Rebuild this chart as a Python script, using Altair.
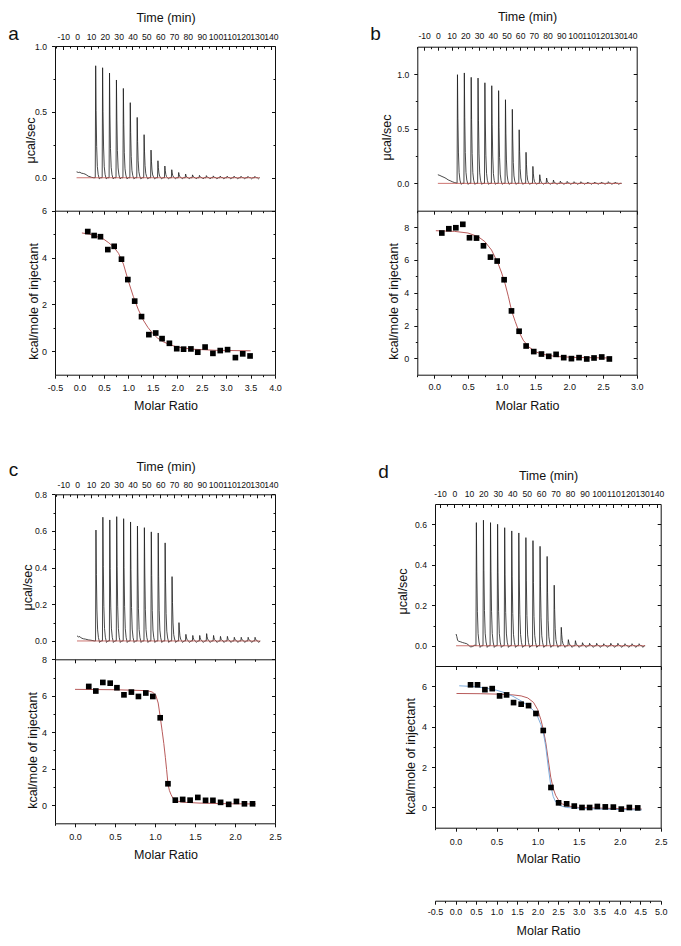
import altair as alt
import pandas as pd

# ---------------- values ----------------
TIME_LABELS = [-10, 0, 10, 20, 30, 40, 50, 60, 70, 80, 90, 100, 110, 120, 130, 140]
TIME_MINOR = [-15, -5, 5, 15, 25, 35, 45, 55, 65, 75, 85, 95, 105, 115, 125, 135]

# spike template of one injection (time offset, fraction of peak, extra dip)
SPIKE_DT = [-0.3, 0.0, 0.3, 0.7, 1.2, 1.8, 2.6, 3.6]
SPIKE_FRAC = [0.0, 1.0, 0.6, 0.28, 0.1, 0.03, 0.0, 0.0]
SPIKE_DIP = [0.0, 0.0, 0.0, 0.0, 0.0, 0.0, -0.008, 0.0]

# ---- panel a ----
A_PRE_T = [-0.4, 1.0, 2.0, 3.0, 4.5, 5.7, 7.0, 8.0, 9.3, 10.5, 12.0]
A_PRE_V = [0.045, 0.040, 0.042, 0.035, 0.032, 0.028, 0.020, 0.012, 0.008, 0.003, 0.0]
A_INJ_START, A_INJ_STEP, A_END = 13.4, 5.0, 131.8
A_PEAKS = [0.85, 0.835, 0.795, 0.742, 0.678, 0.57, 0.458, 0.327, 0.21, 0.129, 0.089, 0.061,
           0.04, 0.028, 0.022, 0.018, 0.016, 0.014, 0.013, 0.012, 0.012, 0.011, 0.01, 0.01]
A_BASE_T = [-0.4, 131.8]
A_MR = [0.17, 0.30, 0.43, 0.58, 0.71, 0.86, 0.99, 1.13, 1.27, 1.42, 1.56, 1.69, 1.84, 1.99,
        2.13, 2.28, 2.42, 2.57, 2.73, 2.88, 3.03, 3.19, 3.34, 3.49]
A_KCAL = [5.11, 4.94, 4.89, 4.34, 4.48, 3.93, 3.06, 2.14, 1.48, 0.71, 0.78, 0.54, 0.34, 0.11,
          0.09, 0.10, -0.04, 0.18, -0.09, 0.03, 0.07, -0.27, -0.11, -0.20]
A_FIT_MR = [0.05, 0.2, 0.35, 0.5, 0.6, 0.7, 0.8, 0.9, 1.0, 1.1, 1.2, 1.3, 1.4, 1.5, 1.6, 1.7,
            1.85, 2.0, 2.3, 2.8, 3.5]
A_FIT_KCAL = [5.05, 5.0, 4.9, 4.78, 4.63, 4.45, 4.18, 3.72, 3.0, 2.35, 1.8, 1.35, 1.02, 0.76,
              0.56, 0.42, 0.28, 0.18, 0.09, 0.04, 0.02]

# ---- panel b ----
B_PRE_T = [0.0, 1.5, 3.0, 4.5, 6.0, 7.5, 9.0, 10.5, 12.0, 13.5]
B_PRE_V = [0.079, 0.072, 0.063, 0.055, 0.045, 0.032, 0.024, 0.015, 0.008, 0.003]
B_INJ_START, B_INJ_STEP, B_END = 14.3, 5.0, 134.0
B_PEAKS = [0.994, 1.01, 0.97, 0.963, 0.92, 0.893, 0.848, 0.765, 0.677, 0.49, 0.284, 0.155,
           0.079, 0.049, 0.03, 0.02, 0.018, 0.015, 0.015, 0.012, 0.012, 0.012, 0.015, 0.012]
B_BASE_T = [0.0, 134.0]
B_MR = [0.113, 0.217, 0.321, 0.424, 0.523, 0.627, 0.73, 0.834, 0.933, 1.036, 1.145, 1.258,
        1.362, 1.475, 1.589, 1.697, 1.806, 1.919, 2.033, 2.146, 2.26, 2.368, 2.482, 2.595]
B_KCAL = [7.64, 7.90, 7.96, 8.17, 7.35, 7.33, 6.86, 6.17, 5.93, 4.79, 2.89, 1.65, 0.75, 0.41,
          0.26, 0.12, 0.24, 0.04, -0.02, 0.04, -0.04, 0.02, 0.08, -0.04]
B_FIT_MR = [0.025, 0.3, 0.5, 0.65, 0.75, 0.85, 0.95, 1.0, 1.05, 1.1, 1.15, 1.2, 1.26, 1.32,
            1.4, 1.5, 1.6, 1.8, 2.1, 2.6]
B_FIT_KCAL = [7.78, 7.74, 7.64, 7.42, 7.12, 6.6, 5.75, 5.2, 4.55, 3.75, 2.85, 2.25, 1.58, 1.1,
              0.7, 0.4, 0.25, 0.11, 0.05, 0.02]

# ---- panel c ----
C_PRE_T = [-0.1, 1.0, 2.0, 3.0, 4.5, 6.0, 8.0, 10.0, 12.5]
C_PRE_V = [0.028, 0.022, 0.024, 0.016, 0.012, 0.010, 0.006, 0.004, 0.0]
C_INJ_START, C_INJ_STEP, C_END = 13.6, 5.0, 132.3
C_PEAKS = [0.605, 0.675, 0.66, 0.678, 0.667, 0.649, 0.627, 0.618, 0.595, 0.589, 0.535, 0.351,
           0.10, 0.036, 0.03, 0.03, 0.04, 0.03, 0.025, 0.025, 0.02, 0.02, 0.02, 0.02]
C_BASE_T = [-0.1, 132.3]
C_MR = [0.172, 0.26, 0.348, 0.44, 0.524, 0.612, 0.705, 0.793, 0.885, 0.973, 1.065, 1.162,
        1.254, 1.346, 1.439, 1.535, 1.632, 1.724, 1.82, 1.921, 2.018, 2.118, 2.219]
C_KCAL = [6.51, 6.26, 6.73, 6.69, 6.44, 6.05, 6.2, 5.96, 6.15, 5.96, 4.79, 1.17, 0.27, 0.31,
          0.27, 0.42, 0.26, 0.26, 0.15, 0.04, 0.2, 0.07, 0.07]
C_FIT_MR = [0.0, 0.5, 0.9, 0.97, 1.01, 1.04, 1.065, 1.09, 1.11, 1.13, 1.145, 1.162, 1.18, 1.2,
            1.225, 1.26, 1.34, 1.55, 1.97, 2.26]
C_FIT_KCAL = [6.35, 6.33, 6.28, 6.2, 6.02, 5.6, 4.85, 4.05, 3.38, 2.6, 1.95, 1.17, 0.8, 0.58,
              0.37, 0.24, 0.16, 0.11, 0.07, 0.06]

# ---- panel d ----
D_PRE_T = [1.1, 1.6, 2.2, 3.0, 4.0, 5.5, 7.0, 8.5, 10.0, 11.0, 12.5, 14.3]
D_PRE_V = [0.058, 0.045, 0.026, 0.022, 0.020, 0.016, 0.013, 0.010, 0.002, -0.006, -0.004, 0.004]
D_INJ_START, D_INJ_STEP, D_END = 15.15, 4.9, 132.0
D_PEAKS = [0.608, 0.62, 0.608, 0.6, 0.583, 0.567, 0.557, 0.534, 0.519, 0.491, 0.441, 0.299,
           0.091, 0.03, 0.025, 0.015, 0.012, 0.012, 0.01, 0.012, 0.012, 0.01, 0.01, 0.01]
D_BASE_T = [1.1, 132.0]
D_MR = [0.183, 0.268, 0.358, 0.447, 0.537, 0.622, 0.707, 0.8, 0.89, 0.98, 1.069, 1.163, 1.256,
        1.354, 1.447, 1.541, 1.634, 1.728, 1.825, 1.923, 2.02, 2.118, 2.22]
D_KCAL = [6.07, 6.07, 5.83, 5.88, 5.52, 5.57, 5.19, 5.11, 5.04, 4.65, 3.81, 0.99, 0.23, 0.18,
          0.07, 0.0, 0.0, 0.05, 0.03, 0.02, -0.08, 0.0, -0.02]
D_FIT_MR = [0.012, 0.3, 0.5, 0.7, 0.8, 0.88, 0.95, 1.0, 1.04, 1.07, 1.1, 1.13, 1.16, 1.19, 1.22,
            1.26, 1.3, 1.36, 1.5, 2.0, 2.27]
D_FIT_KCAL = [5.64, 5.63, 5.61, 5.57, 5.52, 5.42, 5.2, 4.85, 4.35, 3.85, 3.2, 2.35, 1.5, 0.95,
              0.6, 0.33, 0.18, 0.08, 0.0, -0.06, -0.08]
D_FIT2_MR = [0.045, 0.2, 0.35, 0.5, 0.6, 0.7, 0.8, 0.88, 0.95, 1.0, 1.04, 1.07, 1.1, 1.13, 1.16,
             1.19, 1.22, 1.27, 1.35, 1.6, 2.0, 2.27]
D_FIT2_KCAL = [6.02, 5.99, 5.92, 5.8, 5.68, 5.5, 5.27, 5.05, 4.8, 4.5, 4.1, 3.7, 3.0, 2.0, 1.1,
               0.55, 0.27, 0.1, 0.0, -0.06, -0.1, -0.12]

# axis tick values
MR_A_LAB = [-0.5, 0.0, 0.5, 1.0, 1.5, 2.0, 2.5, 3.0, 3.5, 4.0]
MR_A_MIN = [-0.25, 0.25, 0.75, 1.25, 1.75, 2.25, 2.75, 3.25, 3.75]
MR_B_LAB = [0.0, 0.5, 1.0, 1.5, 2.0, 2.5, 3.0]
MR_B_MIN = [-0.25, 0.25, 0.75, 1.25, 1.75, 2.25, 2.75]
MR_C_LAB = [0.0, 0.5, 1.0, 1.5, 2.0, 2.5]
MR_C_MIN = [-0.25, 0.25, 0.75, 1.25, 1.75, 2.25]
MR_X_LAB = [-0.5, 0.0, 0.5, 1.0, 1.5, 2.0, 2.5, 3.0, 3.5, 4.0, 4.5, 5.0]
MR_X_MIN = [-0.25, 0.25, 0.75, 1.25, 1.75, 2.25, 2.75, 3.25, 3.75, 4.25, 4.75]

# ---------------- layout and style ----------------
PAD = 8
W, H = 665, 930
FONT = "Liberation Sans"
TRACE_COLOR = "#1a1a1a"
BASE_RED = "#c0504d"
FIT_RED = "#b04848"
FIT_BLUE = "#6fa3d8"
MAJ, MIN = 3.5, 2.0
HYPHEN = "replace(datum.label, '\u2212', '-')"


def build_trace(pre_t, pre_v, t0, step, peaks, end_t):
    ts, vs = list(pre_t), list(pre_v)
    for k, h in enumerate(peaks):
        tk = t0 + k * step
        for dt, f, d in zip(SPIKE_DT, SPIKE_FRAC, SPIKE_DIP):
            ts.append(tk + dt)
            vs.append(h * f + d)
    ts.append(end_t)
    vs.append(0.0)
    return pd.DataFrame({"t": ts, "v": vs})


def axis_at(orient, page_pos, **kw):
    p = page_pos - PAD
    off = -p if orient in ("left", "top") else p - H
    spec = dict(orient=orient, offset=off, grid=False, labelFlush=False, labelOverlap=False)
    spec.update(kw)
    return alt.Axis(**spec)


def tick_axis(orient, page_pos, values, size, domain=False):
    return axis_at(orient, page_pos, values=values, labels=False, ticks=True,
                   tickSize=size, domain=domain, title=None)


def inside(vals, dom):
    return [v for v in vals if dom[0] <= v <= dom[1]]


PANELS = [
    dict(letter="a", geom=(55, 275, 46, 210.7, 374.7), tdom=[-16, 143], udom=[-0.25, 1.0],
         kdom=[-1, 6], mdom=[-0.5, 4.0],
         u_major=[0.0, 0.5, 1.0], u_minor=[0.25, 0.75], k_major=[0, 2, 4, 6], k_minor=[1, 3, 5],
         m_lab=MR_A_LAB, m_min=MR_A_MIN,
         trace=build_trace(A_PRE_T, A_PRE_V, A_INJ_START, A_INJ_STEP, A_PEAKS, A_END),
         base=pd.DataFrame({"t": A_BASE_T, "v": [0.0, 0.0]}),
         pts=pd.DataFrame({"mr": A_MR, "kcal": A_KCAL}),
         fit=pd.DataFrame({"mr": A_FIT_MR, "kcal": A_FIT_KCAL}), fit2=None,
         txt=dict(cx=165.5, tlab=36, ttitle=17, ux=30, uy=140, kx=33, ky=301, mlab=387,
                  mtitle=405, lx=13, ly=33)),
    dict(letter="b", geom=(417.3, 636.7, 46.7, 210.7, 374.7), tdom=[-15, 145], udom=[-0.25, 1.25],
         kdom=[-1, 9], mdom=[-0.25, 3.0],
         u_major=[0.0, 0.5, 1.0], u_minor=[0.25, 0.75], k_major=[0, 2, 4, 6, 8], k_minor=[1, 3, 5, 7],
         m_lab=MR_B_LAB, m_min=MR_B_MIN,
         trace=build_trace(B_PRE_T, B_PRE_V, B_INJ_START, B_INJ_STEP, B_PEAKS, B_END),
         base=pd.DataFrame({"t": B_BASE_T, "v": [0.0, 0.0]}),
         pts=pd.DataFrame({"mr": B_MR, "kcal": B_KCAL}),
         fit=pd.DataFrame({"mr": B_FIT_MR, "kcal": B_FIT_KCAL}), fit2=None,
         txt=dict(cx=527, tlab=35.7, ttitle=16.7, ux=386.7, uy=137, kx=393, ky=301, mlab=386.7,
                  mtitle=405, lx=375, ly=33)),
    dict(letter="c", geom=(55, 275, 494.3, 659.3, 823.3), tdom=[-16, 143], udom=[-0.1, 0.8],
         kdom=[-1, 8], mdom=[-0.25, 2.5],
         u_major=[0.0, 0.2, 0.4, 0.6, 0.8], u_minor=[0.1, 0.3, 0.5, 0.7],
         k_major=[0, 2, 4, 6, 8], k_minor=[1, 3, 5, 7],
         m_lab=MR_C_LAB, m_min=MR_C_MIN,
         trace=build_trace(C_PRE_T, C_PRE_V, C_INJ_START, C_INJ_STEP, C_PEAKS, C_END),
         base=pd.DataFrame({"t": C_BASE_T, "v": [0.0, 0.0]}),
         pts=pd.DataFrame({"mr": C_MR, "kcal": C_KCAL}),
         fit=pd.DataFrame({"mr": C_FIT_MR, "kcal": C_FIT_KCAL}), fit2=None,
         txt=dict(cx=165.5, tlab=484, ttitle=466, ux=27, uy=587, kx=32, ky=750, mlab=836,
                  mtitle=854, lx=13, ly=469)),
    dict(letter="d", geom=(435, 660.7, 504, 666, 827.7), tdom=[-13.5, 142.8], udom=[-0.1, 0.7],
         kdom=[-1, 7], mdom=[-0.25, 2.5],
         u_major=[0.0, 0.2, 0.4, 0.6], u_minor=[0.1, 0.3, 0.5], k_major=[0, 2, 4, 6], k_minor=[1, 3, 5],
         m_lab=MR_C_LAB, m_min=MR_C_MIN,
         trace=build_trace(D_PRE_T, D_PRE_V, D_INJ_START, D_INJ_STEP, D_PEAKS, D_END),
         base=pd.DataFrame({"t": D_BASE_T, "v": [0.0, 0.0]}),
         pts=pd.DataFrame({"mr": D_MR, "kcal": D_KCAL}),
         fit=pd.DataFrame({"mr": D_FIT_MR, "kcal": D_FIT_KCAL}),
         fit2=pd.DataFrame({"mr": D_FIT2_MR, "kcal": D_FIT2_KCAL}),
         txt=dict(cx=548, tlab=493, ttitle=475, ux=402, uy=591, kx=410, ky=756, mlab=841,
                  mtitle=858, lx=383, ly=471),
         extra=dict(y=900.7, dom=[-0.5, 5.0], lab=MR_X_LAB, mn=MR_X_MIN, labpos=911.7, title=930.7)),
]


def panel_layers(P):
    L, R, T, M, B = P["geom"]
    tx = P["txt"]
    xr = [L - PAD, R - PAD]

    def xt(axis):
        return alt.X("t:Q", scale=alt.Scale(domain=P["tdom"], range=xr, nice=False, zero=False), axis=axis)

    def yu(axis):
        return alt.Y("v:Q", scale=alt.Scale(domain=P["udom"], range=[M - PAD, T - PAD], nice=False, zero=False), axis=axis)

    def xm(axis, dom=None):
        return alt.X("mr:Q", scale=alt.Scale(domain=dom or P["mdom"], range=xr, nice=False, zero=False), axis=axis)

    def yk(axis):
        return alt.Y("kcal:Q", scale=alt.Scale(domain=P["kdom"], range=[B - PAD, M - PAD], nice=False, zero=False), axis=axis)

    t_lab = inside(TIME_LABELS, P["tdom"])
    t_min = inside(TIME_MINOR, P["tdom"])
    out = []
    # --- thermogram ---
    out.append(alt.Chart(P["trace"]).mark_line(color=TRACE_COLOR, strokeWidth=0.8).encode(
        x=xt(axis_at("top", T, values=t_lab, ticks=False, tickSize=0, domain=True, format="d",
                     labelExpr=HYPHEN, labelFontSize=8.6, labelBaseline="middle",
                     labelPadding=T - tx["tlab"],
                     title="Time (min)", titleX=tx["cx"] - PAD, titleY=tx["ttitle"] - T,
                     titleBaseline="middle", titleAlign="center")),
        y=yu(axis_at("left", L, values=P["u_major"], tickSize=MAJ, domain=True, format=".1f",
                     labelFontSize=8.6, labelPadding=5, title="μcal/sec", titleX=tx["ux"] - L,
                     titleY=tx["uy"] - PAD, titleAngle=270, titleAlign="center",
                     titleBaseline="middle"))))
    out.append(alt.Chart(P["base"]).mark_line(color=BASE_RED, strokeWidth=0.8).encode(
        x=xt(tick_axis("bottom", T, t_lab, MAJ)),
        y=yu(axis_at("left", R, values=P["u_major"], labels=False, tickSize=MAJ, domain=True, title=None))))
    out.append(alt.Chart(P["base"]).mark_line(opacity=0).encode(
        x=xt(tick_axis("bottom", T, t_min, MIN)),
        y=yu(axis_at("left", L, values=P["u_minor"], labels=False, tickSize=MIN, domain=False,
                     title=P["letter"], titleAngle=0, titleX=tx["lx"] - L, titleY=tx["ly"] - PAD,
                     titleFontSize=19, titleAlign="center", titleBaseline="middle"))))
    out.append(alt.Chart(P["base"]).mark_line(opacity=0).encode(
        x=xt(None),
        y=yu(tick_axis("left", R, P["u_minor"], MIN))))
    # --- isotherm ---
    out.append(alt.Chart(P["fit"]).mark_line(color=FIT_RED, strokeWidth=0.9).encode(
        x=xm(axis_at("bottom", M, values=P["m_lab"], labels=False, tickSize=MAJ, domain=True, title=None)),
        y=yk(axis_at("left", R, values=P["k_major"], labels=False, tickSize=MAJ, domain=True, title=None))))
    if P["fit2"] is not None:
        out.append(alt.Chart(P["fit2"]).mark_line(color=FIT_BLUE, strokeWidth=0.9).encode(
            x=xm(None), y=yk(None)))
    out.append(alt.Chart(P["pts"]).mark_square(size=32, color="#000000", opacity=1).encode(
        x=xm(axis_at("bottom", B, values=P["m_lab"], tickSize=MAJ, domain=True, format=".1f",
                     labelExpr=HYPHEN, labelFontSize=9, labelBaseline="middle",
                     labelPadding=tx["mlab"] - B - MAJ,
                     title="Molar Ratio", titleX=tx["cx"] - PAD, titleY=tx["mtitle"] - B,
                     titleBaseline="middle", titleAlign="center")),
        y=yk(axis_at("left", L, values=P["k_major"], tickSize=MAJ, domain=True, format="d",
                     labelFontSize=9, labelPadding=5, title="kcal/mole of injectant",
                     titleX=tx["kx"] - L, titleY=tx["ky"] - PAD, titleAngle=270,
                     titleAlign="center", titleBaseline="middle"))))
    out.append(alt.Chart(P["pts"]).mark_point(opacity=0).encode(
        x=xm(tick_axis("bottom", B, P["m_min"], MIN)),
        y=yk(tick_axis("left", L, P["k_minor"], MIN))))
    out.append(alt.Chart(P["pts"]).mark_point(opacity=0).encode(
        x=xm(tick_axis("bottom", M, P["m_min"], MIN)),
        y=yk(tick_axis("left", R, P["k_minor"], MIN))))
    # --- extra molar ratio axis (panel d) ---
    if "extra" in P:
        E = P["extra"]
        out.append(alt.Chart(P["pts"]).mark_point(opacity=0).encode(
            x=xm(axis_at("bottom", E["y"], values=E["lab"], tickSize=MAJ, domain=True, format=".1f",
                         labelExpr=HYPHEN, labelFontSize=9, labelBaseline="middle",
                         labelPadding=E["labpos"] - E["y"] - MAJ,
                         title="Molar Ratio", titleX=tx["cx"] - PAD, titleY=E["title"] - E["y"],
                         titleBaseline="middle", titleAlign="center"), dom=E["dom"]),
            y=yk(None)))
        out.append(alt.Chart(P["pts"]).mark_point(opacity=0).encode(
            x=xm(tick_axis("bottom", E["y"], E["mn"], MIN), dom=E["dom"]),
            y=yk(None)))
    return out


layers = []
for P in PANELS:
    layers.extend(panel_layers(P))

chart = alt.layer(*layers).resolve_scale(
    x="independent", y="independent"
).resolve_axis(
    x="independent", y="independent"
).properties(
    width=W, height=H, autosize=alt.AutoSizeParams(type="none"), padding=0
).configure_view(
    stroke=None
).configure_axis(
    grid=False, labelFont=FONT, titleFont=FONT, labelColor="#111111", titleColor="#111111",
    titleFontSize=12.5, titleFontWeight="normal", domainColor="#111111", tickColor="#111111",
    domainWidth=1, tickWidth=1
)

chart.save("out.html", embed_options={"renderer": "svg", "actions": False})
